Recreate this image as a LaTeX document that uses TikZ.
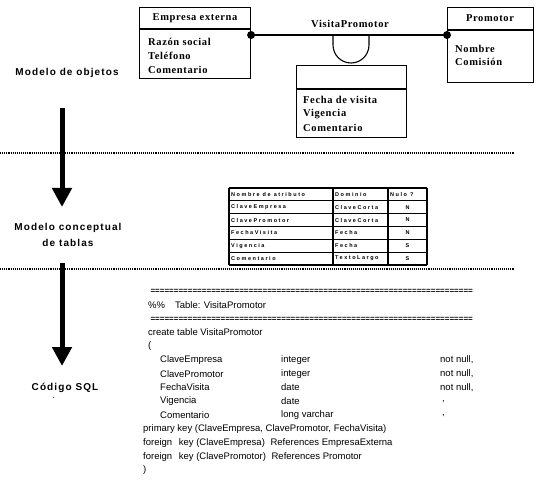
\documentclass[tikz,border=0pt]{standalone}
\usepackage{fontspec}
\setmainfont{Liberation Serif}
\newfontfamily\codefont{Liberation Sans}
\newfontfamily\labelfont[LetterSpace=11]{Liberation Sans}
\newfontfamily\objfont[LetterSpace=6]{Liberation Serif}
\newfontfamily\cellfont[LetterSpace=28]{Liberation Sans}
\usetikzlibrary{arrows.meta}

\begin{document}
\begin{tikzpicture}[x=1pt,y=-1pt,
  classbox/.style={draw, line width=1.1pt, inner sep=0, anchor=north west},
  objtext/.style={font=\objfont\bfseries\fontsize{10.5}{12}\selectfont, anchor=west, inner sep=0},
  objhead/.style={font=\objfont\bfseries\fontsize{10.5}{12}\selectfont, inner sep=0},
  sidelabel/.style={font=\labelfont\bfseries\fontsize{10}{16}\selectfont, align=center, inner sep=0},
  bigarrow/.style={line width=5pt, -{Triangle[width=19pt,length=19pt]}},
  sepline/.style={densely dotted, line width=1.1pt},
  code/.style={font=\codefont\fontsize{9.5}{11}\selectfont, anchor=west, inner sep=0},
  cell/.style={font=\cellfont\bfseries\fontsize{5.5}{5.5}\selectfont, anchor=west, inner sep=0},
  gridline/.style={line width=1.2pt}
]
\useasboundingbox (0,0) rectangle (557,489);

% ---------- object model ----------
\node[classbox, minimum width=111, minimum height=71] (emp) at (139,7) {};
\draw[line width=1.1pt] (139,29) -- (250,29);
\node[objhead] (emph) at (195,18) {Empresa externa};
\node[objtext] (emp1) at (148,42) {Razón social};
\node[objtext] (emp2) at (148,56) {Teléfono};
\node[objtext] (emp3) at (148,70) {Comentario};

\node[classbox, minimum width=86, minimum height=75] (pro) at (447,7) {};
\draw[line width=1.1pt] (447,30) -- (533,30);
\node[objhead] (proh) at (490,18) {Promotor};
\node[objtext] (pro1) at (455,49) {Nombre};
\node[objtext] (pro2) at (455,62) {Comisión};

\node[classbox, minimum width=110, minimum height=72] (vis) at (296,65) {};
\draw[line width=1.1pt] (296,89) -- (406,89);
\node[objtext] (vis1) at (303,100) {Fecha de visita};
\node[objtext] (vis2) at (303,114) {Vigencia};
\node[objtext] (vis3) at (303,128) {Comentario};

\coordinate (le) at (emp.east |- 0,35);
\coordinate (re) at (pro.west |- 0,35);
\draw[line width=1.1pt] (le) -- (re);
\fill (le) circle (4);
\fill (re) circle (4);
\node[objhead] (assoc) at (350,24) {VisitaPromotor};
\coordinate (al) at (333,35);
\coordinate (ar) at (369,35);
\draw[line width=1.1pt] (al) -- (333,45) arc (180:0:18) -- (ar);

% ---------- stage labels and arrows ----------
\node[sidelabel] (lab1) at (67,73) {Modelo de objetos};
\node[sidelabel] (lab2) at (68,235) {Modelo conceptual\\de tablas};
\node[sidelabel] (lab3) at (65,388) {Código SQL};
\node[inner sep=0, font=\codefont\fontsize{9}{9}\selectfont] (dot) at (54,398) {.};

\coordinate (a1s) at (62,108);
\coordinate (a1e) at (62,207);
\coordinate (a2s) at (62,263);
\coordinate (a2e) at (62,366);

\draw[sepline] (0,153) -- (514,153);
\draw[sepline] (0,269) -- (514,269);
\draw[bigarrow] (a1s) -- (a1e);
\draw[bigarrow] (a2s) -- (a2e);

% ---------- conceptual table ----------
\foreach \i in {0,...,6} {
  \draw[gridline] (229,188+12.83*\i) -- (427,188+12.83*\i);
}
\draw[gridline] (229,188) -- (229,265);
\draw[gridline] (333,188) -- (333,265);
\draw[gridline] (388,188) -- (388,265);
\draw[gridline] (427,188) -- (427,265);

\foreach \a/\b/\c [count=\r from 0] in {
  Nombre de atributo/Dominio/Nulo ?,
  ClaveEmpresa/ClaveCorta/N,
  ClavePromotor/ClaveCorta/N,
  FechaVisita/Fecha/N,
  Vigencia/Fecha/S,
  Comentario/TextoLargo/S} {
  \node[cell] at (231,194.4+12.83*\r) {\a};
  \node[cell] at (335,194.4+12.83*\r) {\b};
  \ifnum\r=0
    \node[cell] at (390,194.4) {\c};
  \else
    \node[cell, anchor=center] at (407.5,194.4+12.83*\r) {\c};
  \fi
}

% ---------- SQL script ----------
\newcommand{\eqrule}{\hbox to 327pt{\cleaders\hbox{\bfseries\fontsize{8}{8}\selectfont=}\hfill}}
\node[code] (c0) at (148,291) {\eqrule};
\node[code] (c1) at (148,305) {\%\%\hspace{10pt}Table: VisitaPromotor};
\node[code] (c2) at (148,319) {\eqrule};
\node[code] (c3) at (148,332) {create table VisitaPromotor};
\node[code] (c4) at (148,346) {(};

\node[code] (n1) at (160,360) {ClaveEmpresa};
\node[code] (t1) at (281,360) {integer};
\node[code] (k1) at (440,360) {not null,};
\node[code] (n2) at (160,373.8) {ClavePromotor};
\node[code] (t2) at (281,373.8) {integer};
\node[code] (k2) at (440,373.8) {not null,};
\node[code] (n3) at (160,387.6) {FechaVisita};
\node[code] (t3) at (281,387.6) {date};
\node[code] (k3) at (440,387.6) {not null,};
\node[code] (n4) at (160,401.4) {Vigencia};
\node[code] (t4) at (281,401.4) {date};
\node[code] (k4) at (442,401.4) {,};
\node[code] (n5) at (160,415.2) {Comentario};
\node[code] (t5) at (281,415.2) {long varchar};
\node[code] (k5) at (442,415.2) {,};

\node[code] (c10) at (143,429) {primary key (ClaveEmpresa, ClavePromotor, FechaVisita)};
\node[code] (c11) at (143,443) {foreign\hspace{4pt} key (ClaveEmpresa)\hspace{3pt} References EmpresaExterna};
\node[code] (c12) at (143,457) {foreign\hspace{4pt} key (ClavePromotor)\hspace{3pt} References Promotor};
\node[code] (c13) at (143,470) {)};
\end{tikzpicture}
\end{document}
